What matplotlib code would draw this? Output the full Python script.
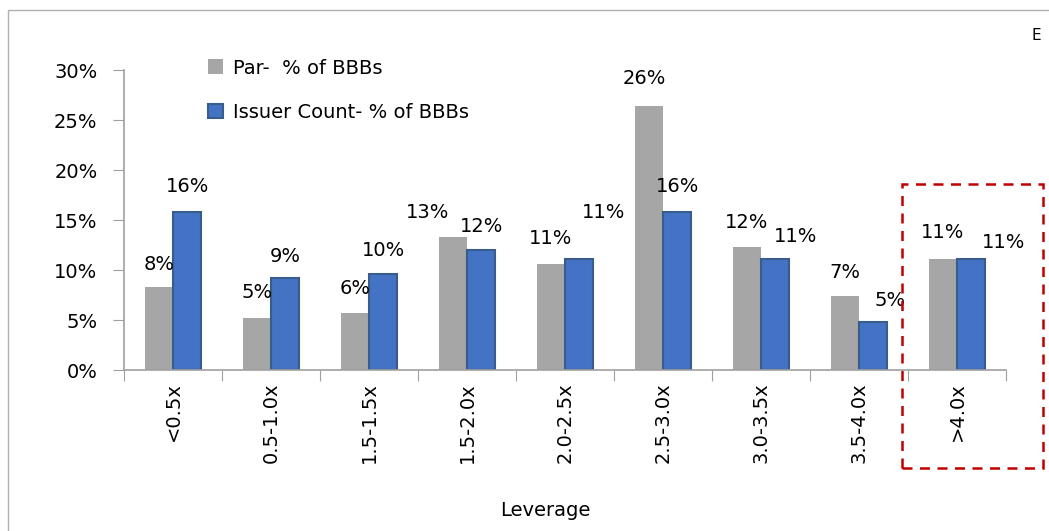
import matplotlib.pyplot as plt
import matplotlib.patches as patches
import numpy as np

# data (percent of BBBs)
categories = ['<0.5x', '0.5-1.0x', '1.5-1.5x', '1.5-2.0x', '2.0-2.5x',
              '2.5-3.0x', '3.0-3.5x', '3.5-4.0x', '>4.0x']
par_pct = [8.3, 5.2, 5.7, 13.3, 10.6, 26.4, 12.3, 7.4, 11.1]
issuer_pct = [15.8, 9.2, 9.6, 12.0, 11.1, 15.8, 11.1, 4.8, 11.1]
y_ticks = [0, 5, 10, 15, 20, 25, 30]

# label nudges in pixels (dx, dy above bar top), like the moved excel labels
par_off = [(0, 23), (0, 25), (0, 25), (-25, 24), (0, 26), (-4, 28), (0, 25), (0, 23), (0, 27)]
issuer_off = [(0, 25), (0, 22), (0, 24), (0, 23), (24, 46), (0, 25), (20, 22), (17, 21), (32, 17)]

gray = '#a6a6a6'
blue = '#4472c4'
blue_edge = '#385d8a'
axis_col = '#a0a0a0'

plt.rcParams['font.family'] = ['DejaVu Sans']

fig = plt.figure(figsize=(10.49, 5.31), dpi=100)
W, H = 1049, 531
ax = fig.add_axes([124 / W, 1 - 370 / H, (1006 - 124) / W, 300 / H])

x = np.arange(len(categories))
w = 0.29
b1 = ax.bar(x - w / 2, par_pct, w, color=gray, label='Par-  % of BBBs')
b2 = ax.bar(x + w / 2, issuer_pct, w, color=blue, edgecolor=blue_edge,
            linewidth=1.5, label='Issuer Count- % of BBBs')

# data labels
for i in range(len(categories)):
    ax.annotate('%d%%' % round(par_pct[i]), (x[i] - w / 2, par_pct[i]),
                xytext=par_off[i], textcoords='offset pixels',
                ha='center', va='center', fontsize=14)
    ax.annotate('%d%%' % round(issuer_pct[i]), (x[i] + w / 2, issuer_pct[i]),
                xytext=issuer_off[i], textcoords='offset pixels',
                ha='center', va='center', fontsize=14)

ax.set_xlim(-0.5, len(categories) - 0.5)
ax.set_ylim(0, 30)
ax.set_yticks(y_ticks)
ax.set_yticklabels(['%d%%' % t for t in y_ticks], fontsize=14)

# category separators as tick marks, labels at centres
ax.set_xticks(np.arange(len(categories) + 1) - 0.5)
ax.set_xticklabels([])
ax.set_xticks(x, minor=True)
ax.set_xticklabels(categories, minor=True, rotation=90, fontsize=14, va='top')
ax.tick_params(axis='x', which='minor', length=0, pad=9)
ax.tick_params(axis='x', which='major', length=8, color=axis_col, direction='out')
ax.tick_params(axis='y', length=8, color=axis_col, direction='out', pad=11)

for s in ['top', 'right']:
    ax.spines[s].set_visible(False)
for s in ['left', 'bottom']:
    ax.spines[s].set_color(axis_col)
    ax.spines[s].set_linewidth(1.2)

fig.text(545 / W, 1 - 510 / H, 'Leverage', ha='center', va='center', fontsize=14)
fig.text(1036 / W, 1 - 35 / H, 'E', ha='center', va='center', fontsize=11)

leg = fig.legend(handles=[b1, b2], loc='upper left',
                 bbox_to_anchor=(190 / W, 1 - 41 / H), frameon=False,
                 fontsize=14, handlelength=0.8, handleheight=0.8,
                 handletextpad=0.5, labelspacing=1.3)

# red dashed highlight box round the last group
fig.patches.append(patches.Rectangle((902 / W, 1 - 468 / H), 141 / W, 284 / H,
                                     transform=fig.transFigure, fill=False,
                                     edgecolor='#c00000', linestyle=(0, (4, 3)),
                                     linewidth=1.8))
# thin outer frame of the chart area
fig.patches.append(patches.Rectangle((8 / W, -0.05), 1.1, 1 - 10 / H + 0.05,
                                     transform=fig.transFigure, fill=False,
                                     edgecolor='#b0b0b0', linewidth=1))

fig.savefig('out.png', dpi=100)
